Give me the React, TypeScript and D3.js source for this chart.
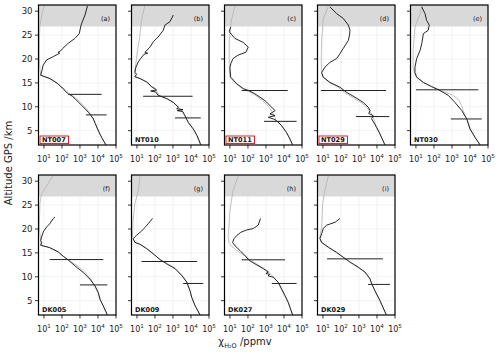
import React from "react";
import * as d3 from "d3";

type P = [number, number]; // [altitude km, mixing ratio ppmv]
type E = [number, number, number]; // [altitude, low, high]

// ---------- data ----------
const NT007_meas: P[] = [[31.1,2600],[29.2,1900],[27.1,1150],[25.3,910],[24.3,525],[23.3,225],[22.2,110],[21.6,80],[21.4,60],[21.2,75],[20.5,33],[19.8,14],[18.7,9],[17.6,7.8],[16.6,6.6],[15.9,22],[14.8,62],[14.2,85],[13.8,118],[13.4,140],[12.7,225],[12.2,380],[11.7,525],[11,800],[10.3,1230],[9.6,1900],[8.85,2900],[8.2,4000],[7.45,5500],[6.5,7000],[5.35,9500],[4.5,12000],[3.6,16000],[2.8,21000],[2.05,27500]];
const NT007_ref: P[] = [[31.3,10.5],[29.5,8],[27.1,6],[24,5.6],[20,5.5],[18,6],[16.6,6.6],[15.9,20],[14.8,58],[13.8,125],[12.7,270],[11.7,650],[10.3,1600],[8.85,3300],[7.45,5700],[5.35,9500],[3.6,15500],[2.05,26000]];
const NT007_err: E[] = [[12.6,225,16000],[8.3,2150,30000]];

const NT010_meas: P[] = [[29.2,1050],[27.8,680],[27.1,360],[26,290],[24.6,150],[23.6,81],[22.5,53],[21.4,28],[21.2,40],[21.0,25],[20.1,16],[19.4,12],[18.3,8.8],[17.2,7.7],[16.8,9.6],[16.3,7.7],[15.9,15],[15.2,35],[14.2,66],[13.8,100],[13.5,124],[13.3,58],[13.1,110],[12.4,150],[11.7,450],[10.9,1050],[9.9,2000],[9.6,1600],[9.4,3600],[9.2,1700],[9.0,3500],[8.15,4600],[6.7,7100],[5.35,13500],[3.95,22000],[2.05,35000]];
const NT010_ref: P[] = [[31.3,28],[28.1,18],[23.9,13.5],[20.4,9.6],[17.4,7.7],[16.3,8],[15.9,15],[15.2,33],[14.2,62],[13.5,110],[12.4,170],[11.7,500],[10.9,1100],[9.9,2100],[8.15,4500],[6.7,7300],[5.35,13000],[3.95,21000],[2.05,33000]];
const NT010_err: E[] = [[12.2,22,12300],[7.67,1290,35000]];

const NT011_meas: P[] = [[26.7,11],[25.7,9.2],[24.3,19],[23.5,53],[22.5,104],[21.4,77],[20.8,28],[20.1,15],[19.1,11.4],[18.2,10],[16.2,11],[14.8,24],[13.8,55],[13.4,110],[12.7,245],[11.3,870],[9.9,2100],[9.2,3200],[8.5,1670],[8.15,3200],[7.8,1350],[7.45,2570],[7.1,3900],[6.05,7400],[4.6,14000],[3.25,21500],[2.05,30000]];
const NT011_ref: P[] = [[31.1,19],[28.1,12],[23.8,9.2],[20,9],[17,9.5],[16.2,10],[14.8,22],[13.8,50],[12.7,200],[11.3,650],[9.9,1500],[8.5,2600],[7.1,3700],[6.05,7000],[4.6,13500],[3.25,21000],[2.05,29000]];
const NT011_err: E[] = [[13.4,45,16000],[6.95,780,50000]];

const NT029_meas: P[] = [[30.9,24.5],[29.5,58],[28.5,134],[27.1,257],[26,316],[25,300],[23.9,257],[22.2,134],[21.1,88],[20.1,58],[19.3,24.5],[18.3,13],[17.2,8.5],[16.2,10.4],[15.1,24.5],[14.1,88],[13,210],[12,600],[10.9,1730],[9.9,3300],[9.2,4100],[8.6,3500],[8.15,6200],[7.5,5000],[5.7,9500],[4.3,14700],[2.05,27500]];
const NT029_ref: P[] = [[31,20],[28.4,10.4],[24,8.5],[20,8],[17.2,8.3],[16.2,10],[15.1,22],[14.1,70],[13,160],[12,420],[10.9,1300],[9.9,2700],[9.2,3800],[8.15,5800],[5.7,9300],[4.3,14500],[2.05,27000]];
const NT029_err: E[] = [[13.4,7.7,32000],[7.95,680,48000]];

const NT030_meas: P[] = [[30.9,21],[29.5,32],[28.1,39],[27.1,55],[26,48],[25.3,26],[23.2,21],[21.8,17],[20.1,11],[18.3,8.8],[17.2,8.8],[16.2,11],[15.1,26],[14.2,74],[13.4,215],[12.4,620],[10.9,1470],[9.2,3500],[7.45,6600],[5.35,10000],[3.6,19000],[2.05,36000]];
const NT030_ref: P[] = [[31.2,22],[29.5,17],[26.7,8.8],[21.8,7],[18.3,7],[16.5,9],[15.1,24],[14.2,90],[13.4,260],[12.4,1100],[11.5,2300],[10,3700],[9.2,4200],[7.45,6800],[5.35,10500],[3.6,19500],[2.05,36000]];
const NT030_err: E[] = [[13.55,10,29000],[7.45,870,45000]];

const DK005_meas: P[] = [[22.5,41],[22.2,33],[21.1,21],[20.4,14],[19.4,9.2],[18.3,7.4],[17.6,6.6],[17.2,7.5],[16.6,6.6],[16.1,21],[15.2,63],[14.3,118],[13.5,225],[12.3,525],[10.9,1520],[9.5,3600],[8.1,6800],[6.7,10400],[5.3,13000],[3.9,19700],[2.05,33000]];
const DK005_ref: P[] = [[31.2,33],[29.5,17],[27.4,7.4],[25.3,6],[20.4,5.5],[17.6,6.6],[16.6,7],[16.1,20],[15.2,60],[14.3,115],[13.5,240],[12.3,700],[10.9,2000],[9.5,4000],[8.1,6500],[6.7,10000],[5.3,12800],[3.9,19500],[2.05,32000]];
const DK005_err: E[] = [[13.6,21,19700],[8.3,1000,33000]];

const DK009_meas: P[] = [[22.2,74],[21.1,42],[20.3,28],[19.4,16],[18.7,9.6],[18.0,6.2],[17.2,7.7],[16.8,15],[15.9,35],[14.8,81],[13.6,190],[12.7,450],[11.7,1290],[10.3,3000],[8.9,5750],[7.1,8800],[5.7,11000],[4.0,16700],[2.05,31600]];
const DK009_ref: P[] = [[31.1,15],[28.1,12],[25.3,7.7],[21.8,6.2],[18.7,5.6],[18,6],[17.2,7.5],[16.8,14],[15.9,33],[14.8,78],[13.6,200],[12.7,520],[11.7,1500],[10.3,3300],[8.9,5900],[7.1,8800],[5.7,11000],[4.0,16500],[2.05,31000]];
const DK009_err: E[] = [[13.2,18,22000],[8.6,3700,48000]];

const DK027_meas: P[] = [[22.2,500],[20.8,370],[20.1,200],[19.8,85],[19.3,40],[18.7,25],[18.0,17],[17.2,14],[16.5,19],[15.5,36],[14.4,70],[13.4,120],[12.7,245],[11.7,710],[11.0,1350],[10.7,1000],[10.5,1600],[10.2,1300],[9.9,2570],[8.85,4800],[7.45,7400],[6.05,11400],[4.6,17500],[3.6,21500],[2.05,30000]];
const DK027_ref: P[] = [[31.1,29],[28.1,15],[23.9,10],[18.3,8],[17,9],[16,16],[15.2,30],[14.4,70],[13.4,150],[12.7,300],[11.7,800],[11,1400],[9.9,2700],[8.85,4700],[7.45,7000],[6.05,11000],[4.6,17000],[2.05,29500]];
const DK027_err: E[] = [[13.55,45,11400],[8.6,2100,50000]];

const DK029_meas: P[] = [[22.2,88],[21.4,47],[20.8,16],[20.1,10.4],[19.0,8.5],[18.0,6.8],[17.2,8.5],[16.2,20],[15.1,58],[14.1,134],[13.1,316],[12.0,910],[11.0,2150],[9.6,4100],[8.6,5000],[7.1,7700],[5.0,14700],[2.05,33000]];
const DK029_ref: P[] = [[31.1,20],[28.1,13],[25.3,9.6],[20.4,8.5],[18.3,6.8],[17.2,8],[16.2,18],[15.1,52],[14.1,125],[13.1,300],[12,850],[11,2000],[9.6,3900],[7.1,7500],[5,14500],[2.05,32000]];
const DK029_err: E[] = [[13.75,17,21500],[8.4,3200,52000]];

const panelLetters = ["(a)","(b)","(c)","(d)","(e)","(f)","(g)","(h)","(i)"];
const flightNames = ["NT007","NT010","NT011","NT029","NT030","DK005","DK009","DK027","DK029"];
const boxedFlights = ["NT007","NT011","NT029"];
const measSeries = [NT007_meas,NT010_meas,NT011_meas,NT029_meas,NT030_meas,DK005_meas,DK009_meas,DK027_meas,DK029_meas];
const refSeries = [NT007_ref,NT010_ref,NT011_ref,NT029_ref,NT030_ref,DK005_ref,DK009_ref,DK027_ref,DK029_ref];
const errSeries = [NT007_err,NT010_err,NT011_err,NT029_err,NT030_err,DK005_err,DK009_err,DK027_err,DK029_err];

const xTicks = [10, 100, 1000, 10000, 100000];
const yTicks = [5, 10, 15, 20, 25, 30];
const shadeFrom = 26.8;

// ---------- layout ----------
const W = 500, H = 354;
const panelW = 77.5, panelH = 140;
const col0 = 38.5, colStep = 93;
const row0 = 5, rowStep = 170;
const FONT = "DejaVu Sans, sans-serif";

const x = d3.scaleLog().domain([5, 1e5]).range([0, panelW]);
const y = d3.scaleLinear().domain([2, 31.3]).range([panelH, 0]);
const line = d3.line<P>().x(d => x(d[1])).y(d => y(d[0]));

function Panel({ i }: { i: number }) {
  const col = i < 5 ? i : i - 5;
  const row = i < 5 ? 0 : 1;
  const left = col0 + col * colStep;
  const top = row0 + row * rowStep;
  const name = flightNames[i];
  const boxed = boxedFlights.includes(name);
  const clipId = `clip${i}`;
  return (
    <g transform={`translate(${left},${top})`}>
      <defs>
        <clipPath id={clipId}><rect x={0} y={0} width={panelW} height={panelH} /></clipPath>
      </defs>
      <rect x={0} y={0} width={panelW} height={panelH} fill="#fff" />
      {xTicks.slice(0, 4).map(t => (
        <line key={"gx" + t} x1={x(t)} x2={x(t)} y1={0} y2={panelH} stroke="#ececec" strokeWidth={0.7} />
      ))}
      {yTicks.map(t => (
        <line key={"gy" + t} x1={0} x2={panelW} y1={y(t)} y2={y(t)} stroke="#ececec" strokeWidth={0.7} />
      ))}
      <rect x={0} y={0} width={panelW} height={y(shadeFrom)} fill="#d9d9d9" />
      <g clipPath={`url(#${clipId})`}>
        <path d={line(refSeries[i]) || ""} fill="none" stroke="#b3b3b3" strokeWidth={0.8} />
        <path d={line(measSeries[i]) || ""} fill="none" stroke="#111" strokeWidth={0.9} strokeLinejoin="round" />
        {errSeries[i].map((e, k) => (
          <line key={"e" + k} x1={x(e[1])} x2={x(e[2])} y1={y(e[0])} y2={y(e[0])} stroke="#222" strokeWidth={1} />
        ))}
      </g>
      <rect x={0} y={0} width={panelW} height={panelH} fill="none" stroke="#000" strokeWidth={1.2} />
      {/* x ticks */}
      {xTicks.map(t => (
        <g key={"xt" + t}>
          <line x1={x(t)} x2={x(t)} y1={panelH} y2={panelH + 3.5} stroke="#000" strokeWidth={0.8} />
          <text x={x(t)} y={panelH + 17} textAnchor="middle" fontSize={8} fontFamily={FONT} fill="#222">
            <tspan>10</tspan><tspan dy={-4} fontSize={5.6}>{Math.round(Math.log10(t))}</tspan>
          </text>
        </g>
      ))}
      {/* y ticks */}
      {yTicks.map(t => (
        <g key={"yt" + t}>
          <line x1={-3.5} x2={0} y1={y(t)} y2={y(t)} stroke="#000" strokeWidth={0.8} />
          {col === 0 && (
            <text x={-6} y={y(t)} dy="0.35em" textAnchor="end" fontSize={8.5} fontFamily={FONT} fill="#222">{t}</text>
          )}
        </g>
      ))}
      <text x={panelW - 6} y={16} textAnchor="end" fontSize={6.5} fontFamily={FONT} fill="#111">{panelLetters[i]}</text>
      {boxed && (
        <rect x={1.5} y={panelH - 9} width={28.5} height={7.6} fill="#fff" stroke="#e8000b" strokeWidth={0.9} />
      )}
      <text x={3.5} y={panelH - 3} fontSize={6.6} fontWeight="bold" fontFamily={FONT} fill="#111">{name}</text>
    </g>
  );
}

export default function App() {
  return (
    <svg width={W} height={H} style={{ display: "block", position: "absolute", left: 0, top: 0 }}>
      <rect x={0} y={0} width={W} height={H} fill="#fff" />
      {flightNames.map((_, i) => <Panel key={i} i={i} />)}
      <text transform="translate(12,163) rotate(-90)" textAnchor="middle" fontSize={10} fontFamily={FONT} fill="#222">
        Altitude GPS /km
      </text>
      <text x={245} y={345} textAnchor="middle" fontSize={10} fontFamily={FONT} fill="#222">
        <tspan>χ</tspan><tspan dy={3} fontSize={6.5}>H₂O</tspan><tspan dy={-3}> /ppmv</tspan>
      </text>
    </svg>
  );
}
